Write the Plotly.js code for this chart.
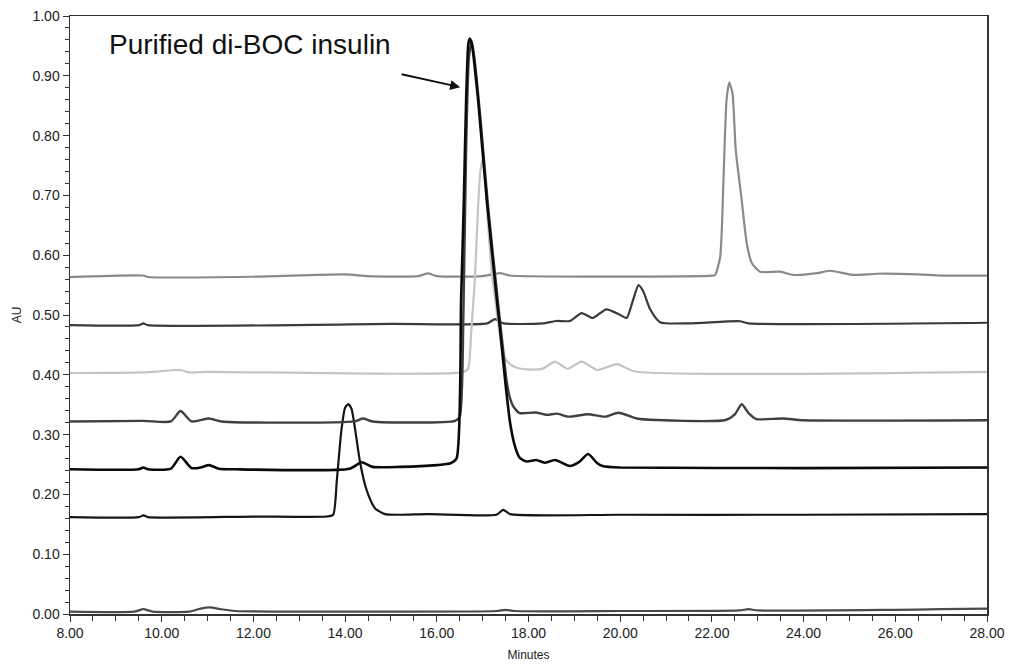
<!DOCTYPE html>
<html>
<head>
<meta charset="utf-8">
<script src="https://cdn.plot.ly/plotly-3.0.1.min.js"></script>
<style>
  html, body { margin: 0; padding: 0; background: #fff; }
  #chart { width: 1009px; height: 669px; }
</style>
</head>
<body>
<div id="chart"></div>
<script>
// ---- Data (Minutes vs AU) ----
const timeA = [8, 9.4, 9.6, 9.8, 10.6, 10.85, 11.05, 11.3, 11.6, 14, 17.3, 17.5, 17.7, 20, 22.6, 22.8, 23.0, 26, 27, 28];
const auA   = [0.004, 0.004, 0.008, 0.004, 0.004, 0.009, 0.011, 0.008, 0.005, 0.004, 0.005, 0.007, 0.005, 0.005, 0.006, 0.008, 0.006, 0.007, 0.008, 0.009];

const timeB = [8, 9.5, 9.6, 9.7, 12, 13.6, 13.74, 13.82, 13.92, 14.0, 14.07, 14.14, 14.22, 14.33, 14.47, 14.65, 14.87, 15.2, 15.8, 17.3, 17.45, 17.6, 20, 24, 28];
const auB   = [0.162, 0.162, 0.165, 0.162, 0.163, 0.163, 0.166, 0.224, 0.308, 0.345, 0.351, 0.343, 0.308, 0.252, 0.207, 0.177, 0.167, 0.166, 0.167, 0.166, 0.174, 0.167, 0.166, 0.166, 0.167];

const timeC = [8, 9.5, 9.6, 9.7, 10.2, 10.41, 10.65, 10.85, 11.03, 11.25, 11.6, 14.1, 14.36, 14.6, 15.2, 16.0, 16.3, 16.43, 16.53, 16.59, 16.64, 16.69, 16.72, 16.76, 16.9, 17.09, 17.31, 17.38, 17.49, 17.6, 17.71, 17.81, 17.96, 18.17, 18.35, 18.58, 18.9, 19.1, 19.3, 19.5, 19.63, 20, 24, 28];
const auC   = [0.242, 0.242, 0.245, 0.242, 0.243, 0.263, 0.244, 0.245, 0.249, 0.243, 0.242, 0.243, 0.2537, 0.246, 0.246, 0.249, 0.252, 0.26, 0.525, 0.692, 0.86, 0.955, 0.962, 0.955, 0.86, 0.692, 0.525, 0.475, 0.391, 0.319, 0.279, 0.261, 0.255, 0.2575, 0.253, 0.2575, 0.2475, 0.254, 0.2675, 0.252, 0.247, 0.245, 0.244, 0.245];

const timeD = [8, 9.6, 10.2, 10.41, 10.65, 11.03, 11.3, 14.2, 14.39, 14.6, 16.4, 16.5, 16.58, 16.64, 16.7, 16.76, 16.82, 16.95, 17.12, 17.35, 17.45, 17.52, 17.6, 17.67, 17.81, 18.15, 18.4, 18.62, 18.87, 19.3, 19.67, 19.96, 20.36, 20.8, 22.3, 22.5, 22.65, 22.8, 22.97, 23.55, 24, 28];
const auD   = [0.322, 0.323, 0.322, 0.3395, 0.322, 0.327, 0.322, 0.322, 0.327, 0.322, 0.323, 0.33, 0.5, 0.78, 0.93, 0.958, 0.93, 0.83, 0.68, 0.51, 0.44, 0.391, 0.36, 0.347, 0.336, 0.337, 0.333, 0.335, 0.33, 0.334, 0.33, 0.3366, 0.327, 0.3244, 0.3244, 0.334, 0.3507, 0.336, 0.326, 0.327, 0.324, 0.324];

const timeE = [8, 9.6, 10.4, 10.6, 11.0, 16.55, 16.68, 16.75, 16.83, 16.9, 16.95, 17.0, 17.05, 17.12, 17.2, 17.3, 17.38, 17.45, 17.53, 17.7, 17.96, 18.3, 18.58, 18.85, 19.16, 19.5, 19.93, 20.3, 28];
const auE   = [0.403, 0.404, 0.408, 0.404, 0.405, 0.404, 0.41, 0.47, 0.56, 0.68, 0.74, 0.76, 0.73, 0.65, 0.57, 0.51, 0.465, 0.435, 0.423, 0.413, 0.409, 0.41, 0.422, 0.41, 0.422, 0.408, 0.418, 0.406, 0.405];

const timeF = [8, 9.5, 9.6, 9.7, 15, 17.1, 17.27, 17.45, 18.3, 18.61, 18.9, 19.16, 19.4, 19.7, 20.0, 20.14, 20.28, 20.4, 20.5, 20.65, 20.87, 21.5, 22.61, 22.8, 28];
const auF   = [0.483, 0.483, 0.486, 0.483, 0.485, 0.486, 0.493, 0.486, 0.486, 0.49, 0.49, 0.503, 0.495, 0.5095, 0.5, 0.495, 0.525, 0.55, 0.54, 0.51, 0.488, 0.486, 0.4895, 0.486, 0.487];

const timeG = [8, 9.6, 9.7, 12, 14, 14.5, 15.6, 15.81, 16.0, 17.0, 17.38, 17.6, 22.0, 22.07, 22.18, 22.25, 22.32, 22.38, 22.45, 22.52, 22.65, 22.76, 22.87, 23.05, 23.49, 23.78, 24.3, 24.58, 25.08, 25.6, 26.5, 27, 28];
const auG   = [0.5635, 0.566, 0.5635, 0.564, 0.568, 0.565, 0.565, 0.5697, 0.565, 0.565, 0.57, 0.566, 0.5657, 0.567, 0.597, 0.72, 0.86, 0.8885, 0.87, 0.776, 0.692, 0.62, 0.587, 0.5725, 0.5725, 0.567, 0.57, 0.574, 0.567, 0.569, 0.568, 0.566, 0.5657];

const xTickVals = [8, 10, 12, 14, 16, 18, 20, 22, 24, 26, 28];
const yTickVals = [0, 0.1, 0.2, 0.3, 0.4, 0.5, 0.6, 0.7, 0.8, 0.9, 1.0];
const annotationText = "Purified di-BOC insulin";
const arrowHead = [16.51, 0.881];
const arrowTail = [15.2, 0.903];
const labelPos = [8.8, 0.952];

function tr(x, y, color, width) {
  return {
    x: x, y: y, type: 'scatter', mode: 'lines',
    line: { color: color, width: width, shape: 'spline', smoothing: 0.6 },
    hoverinfo: 'skip', showlegend: false
  };
}

const data = [
  tr(timeA, auA, '#4a4a4a', 2.2),
  tr(timeB, auB, '#151515', 2.2),
  tr(timeG, auG, '#8a8a8a', 2.2),
  tr(timeF, auF, '#3a3a3a', 2.2),
  tr(timeE, auE, '#c4c4c4', 2.2),
  tr(timeD, auD, '#404040', 2.4),
  tr(timeC, auC, '#0a0a0a', 2.6)
];

const tickFont = { family: 'Liberation Sans, Arial, sans-serif', size: 14, color: '#222' };

const layout = {
  width: 1009, height: 669,
  margin: { l: 70, r: 22, t: 16, b: 55 },
  paper_bgcolor: '#fff', plot_bgcolor: '#fff',
  xaxis: {
    range: [8, 28], tickvals: xTickVals, tickformat: '.2f',
    ticks: 'outside', ticklen: 6, tickwidth: 1, tickcolor: '#333',
    minor: { dtick: 0.5, ticks: 'outside', ticklen: 5, tickcolor: '#333', showgrid: false },
    showline: true, linecolor: '#333', linewidth: 1.5, mirror: true,
    showgrid: false, zeroline: false, tickfont: tickFont,
    title: { text: 'Minutes', font: { family: 'Liberation Sans, Arial, sans-serif', size: 12, color: '#222' }, standoff: 10 }
  },
  yaxis: {
    range: [0, 1.0], tickvals: yTickVals, tickformat: '.2f',
    ticks: 'outside', ticklen: 6, tickwidth: 1, tickcolor: '#333',
    minor: { dtick: 0.02, ticks: 'outside', ticklen: 4, tickcolor: '#333', showgrid: false },
    showline: true, linecolor: '#333', linewidth: 1.5, mirror: true,
    showgrid: false, zeroline: false, tickfont: tickFont,
    title: { text: 'AU', font: { family: 'Liberation Sans, Arial, sans-serif', size: 12, color: '#222' }, standoff: 8 }
  },
  annotations: [
    {
      x: labelPos[0], y: labelPos[1], xref: 'x', yref: 'y',
      text: annotationText, showarrow: false, xanchor: 'left', yanchor: 'middle',
      font: { family: 'Liberation Sans, Arial, sans-serif', size: 28, color: '#111' }
    },
    {
      x: arrowHead[0], y: arrowHead[1], xref: 'x', yref: 'y',
      ax: arrowTail[0], ay: arrowTail[1], axref: 'x', ayref: 'y',
      text: '', showarrow: true, arrowhead: 2, arrowsize: 1, arrowwidth: 2, arrowcolor: '#111'
    }
  ]
};

Plotly.newPlot('chart', data, layout, { displayModeBar: false, staticPlot: true });
</script>
</body>
</html>
